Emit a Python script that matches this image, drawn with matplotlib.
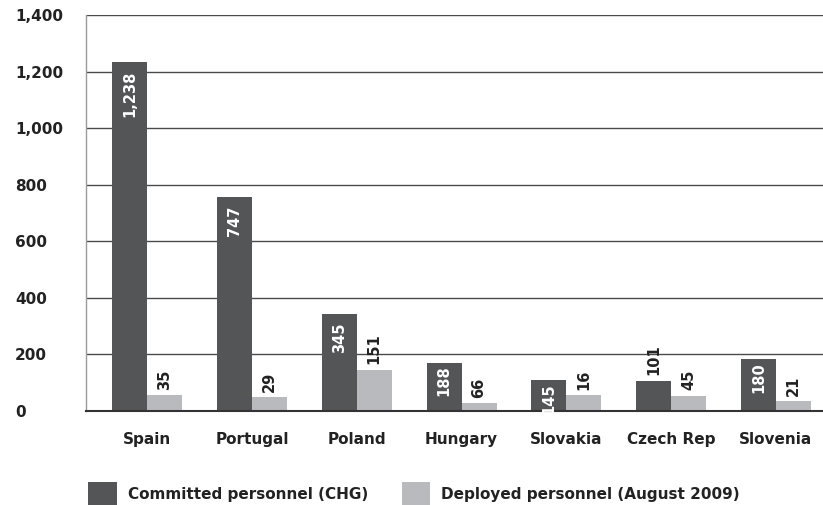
import matplotlib
matplotlib.use("Agg")
import matplotlib.pyplot as plt
from matplotlib.patches import Rectangle
import numpy as np

countries = ["Spain", "Portugal", "Poland", "Hungary", "Slovakia", "Czech Rep", "Slovenia"]
# bar heights as drawn in the source chart
committed = [1234, 755, 342, 169, 108, 105, 183]
deployed = [55, 48, 144, 27, 55, 52, 34]
# value labels as printed on the bars
committed_labels = ["1,238", "747", "345", "188", "145", "101", "180"]
deployed_labels = ["35", "29", "151", "66", "16", "45", "21"]
yticks = [0, 200, 400, 600, 800, 1000, 1200, 1400]

dark = "#545557"
light = "#b9babd"
ink = "#222222"

plt.rcParams["font.family"] = "DejaVu Sans"
plt.rcParams["font.weight"] = "bold"

fig = plt.figure(figsize=(8.23, 5.05), dpi=100)
ax = fig.add_axes([0.1045, 0.1867, 0.8955, 0.7836])

x = np.arange(len(countries))
w = 0.334
ax.bar(x - w / 2, committed, w, color=dark, zorder=3)
ax.bar(x + w / 2, deployed, w, color=light, zorder=3)

for i in range(len(countries)):
    if committed_labels[i] == "101":
        # too short for the label, goes above the bar
        ax.annotate(committed_labels[i], (x[i] - w / 2, committed[i]), xytext=(0, 4),
                    textcoords="offset points", rotation=90, ha="center", va="bottom",
                    fontsize=10.5, fontweight="bold", color=ink, zorder=6)
    else:
        off = -6 if committed[i] > 300 else -2
        ax.annotate(committed_labels[i], (x[i] - w / 2, committed[i]), xytext=(0, off),
                    textcoords="offset points", rotation=90, ha="center", va="top",
                    fontsize=10.5, fontweight="bold", color="white", zorder=6)
    ax.annotate(deployed_labels[i], (x[i] + w / 2, deployed[i]), xytext=(0, 4),
                textcoords="offset points", rotation=90, ha="center", va="bottom",
                fontsize=10.5, fontweight="bold", color=ink, zorder=6)

ax.set_xlim(-0.583, 6.449)
ax.set_ylim(0, 1400)
ax.set_xticks(x)
ax.set_xticklabels(countries, fontsize=11, fontweight="bold", color=ink)
ax.set_yticks(yticks)
ax.set_yticklabels([f"{v:,}" for v in yticks], fontsize=11, fontweight="bold",
                   color=ink, ha="left")
ax.tick_params(axis="y", length=0, pad=51)
ax.tick_params(axis="x", length=0, pad=15)

ax.yaxis.grid(True, color="#4a4a4a", lw=1.0, zorder=1)
ax.set_axisbelow(True)
for side in ["top", "right"]:
    ax.spines[side].set_visible(False)
ax.spines["left"].set_color("#9a9a9a")
ax.spines["left"].set_linewidth(1.0)
ax.spines["bottom"].set_color("#333333")
ax.spines["bottom"].set_linewidth(1.5)
ax.spines["bottom"].set_zorder(5)

# legend along the bottom
W, H = 823, 505
fig.add_artist(Rectangle((88 / W, 0), 29 / W, 23 / H, transform=fig.transFigure,
                         color=dark, lw=0))
fig.text(128 / W, 10 / H, "Committed personnel (CHG)", fontsize=11, fontweight="bold",
         color=ink, va="center", ha="left")
fig.add_artist(Rectangle((402 / W, 0), 28 / W, 23 / H, transform=fig.transFigure,
                         color=light, lw=0))
fig.text(441 / W, 10 / H, "Deployed personnel (August 2009)", fontsize=11, fontweight="bold",
         color=ink, va="center", ha="left")

fig.savefig("out.png", dpi=100)
